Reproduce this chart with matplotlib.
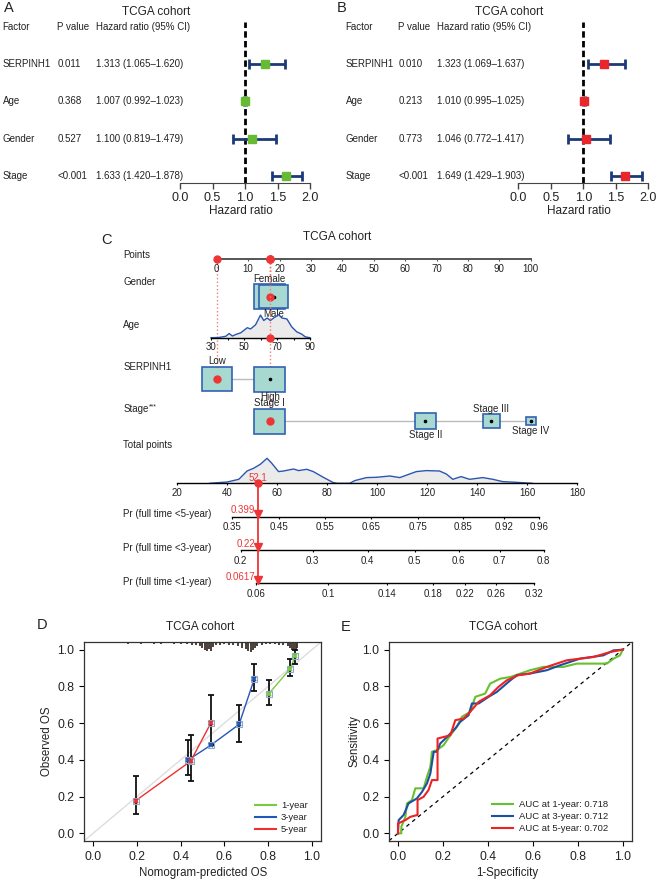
import matplotlib
matplotlib.use('Agg')
import numpy as np
import matplotlib.pyplot as plt
import matplotlib.transforms as mtrans
from matplotlib.patches import Rectangle
from matplotlib.lines import Line2D

plt.rcParams['font.family'] = ['Liberation Sans', 'DejaVu Sans']
plt.rcParams['text.color'] = '#222222'

# ---------------- data ----------------
factors = ['SERPINH1', 'Age', 'Gender', 'Stage']
# A: (green)
pval_a = ['0.011', '0.368', '0.527', '<0.001']
hr_a = [1.313, 1.007, 1.100, 1.633]
lo_a = [1.065, 0.992, 0.819, 1.420]
hi_a = [1.620, 1.023, 1.479, 1.878]
# B: (red)
pval_b = ['0.010', '0.213', '0.773', '<0.001']
hr_b = [1.323, 1.010, 1.046, 1.649]
lo_b = [1.069, 0.995, 0.772, 1.429]
hi_b = [1.637, 1.025, 1.417, 1.903]

# C: nomogram
gender_lev = ['Female', 'Male']
gender_pts = [16.9, 18.1]
gender_rel = [1.0, 0.94]
serp_lev = ['Low', 'High']
serp_pts = [0.0, 16.9]
serp_rel = [0.97, 1.0]
stage_lev = ['Stage I', 'Stage II', 'Stage III', 'Stage IV']
stage_pts = [16.9, 66.4, 87.5, 100.0]
stage_rel = [1.0, 0.67, 0.55, 0.32]

age_x = [30, 31, 35, 39, 41, 43, 45, 48, 52, 54, 57, 60, 62, 64, 66, 68, 71, 73, 76, 79, 82, 85, 87, 89, 90]
age_dens = [0, 0, 0.3, 1.5, 4.3, 1.7, 3.3, 5, 10.3, 9, 13.3, 23.3, 17.7, 20.3, 17.7, 20.3, 23.7, 20.3, 19.3, 11, 6, 3.7, 1, 0.3, 0]

tot_x = [33, 40, 44.6, 47.9, 50.5, 53.2, 55.9, 57.8, 60.5, 62.5, 66.5, 68.5, 71.8, 74.4, 78.4, 82.4, 84,
         89, 91, 95.7, 99.7, 105, 109, 115.6, 119.6, 124.9, 127.6, 130.2, 133.5, 136.9, 142.2, 146.2,
         150.1, 155.4, 162]
tot_dens = [0, 1.3, 4, 12.3, 15, 19, 25, 20, 11.7, 12.3, 14.3, 12.7, 14, 11.7, 6, 0.7, 0,
            0, 2.7, 5.7, 6, 7.3, 5.7, 11.7, 12.7, 12.3, 9.3, 4, 6.7, 4, 5.7, 4,
            1.7, 1, 0]

pr5_lab = ['0.35', '0.45', '0.55', '0.65', '0.75', '0.85', '0.92', '0.96']
pr5_pos = [41.8, 60.7, 79.1, 97.5, 116.2, 134.4, 150.8, 164.8]
pr3_lab = ['0.2', '0.3', '0.4', '0.5', '0.6', '0.7', '0.8']
pr3_pos = [45.4, 74.1, 96.1, 114.9, 132.5, 148.9, 166.5]
pr1_lab = ['0.06', '0.1', '0.14', '0.18', '0.22', '0.26', '0.32']
pr1_pos = [51.5, 80.3, 103.8, 122.4, 135.1, 147.4, 162.7]

pat_gender = 0
pat_age = 66
pat_serp = 0
pat_stage = 0
pat_total = 52.1
pat_pr = ['0.399', '0.22', '0.0617']

# D: calibration
cal1_x = [0.803, 0.900, 0.924]
cal1_y = [0.760, 0.895, 0.964]
cal1_lo = [0.696, 0.855, 0.924]
cal1_hi = [0.836, 0.951, 0.996]
cal3_x = [0.435, 0.538, 0.667, 0.737]
cal3_y = [0.400, 0.480, 0.593, 0.842]
cal3_lo = [0.316, 0.480, 0.500, 0.775]
cal3_hi = [0.509, 0.480, 0.700, 0.924]
cal5_x = [0.195, 0.446, 0.538]
cal5_y = [0.178, 0.393, 0.600]
cal5_lo = [0.105, 0.284, 0.480]
cal5_hi = [0.311, 0.538, 0.751]

rug_x = [0.08, 0.12, 0.16, 0.19, 0.22, 0.25, 0.28, 0.31, 0.34, 0.37, 0.40, 0.43, 0.45, 0.47, 0.49,
         0.50, 0.51, 0.52, 0.53, 0.54, 0.55, 0.56, 0.58, 0.60, 0.62, 0.64, 0.66, 0.68, 0.70, 0.71,
         0.72, 0.73, 0.74, 0.75, 0.77, 0.79, 0.81, 0.83, 0.85, 0.87, 0.89, 0.90, 0.91, 0.92, 0.925, 0.93]
rug_h = [0.006, 0.005, 0.008, 0.006, 0.007, 0.006, 0.008, 0.007, 0.006, 0.008, 0.009, 0.01, 0.012, 0.015, 0.02,
         0.03, 0.04, 0.05, 0.035, 0.045, 0.025, 0.015, 0.012, 0.01, 0.012, 0.015, 0.02, 0.03, 0.035, 0.05,
         0.055, 0.04, 0.03, 0.02, 0.012, 0.01, 0.008, 0.01, 0.012, 0.015, 0.02, 0.03, 0.04, 0.05, 0.045, 0.03]

# E: ROC
roc1_x = [0, 0.015, 0.015, 0.033, 0.04, 0.062, 0.077, 0.114, 0.129, 0.144, 0.151, 0.173, 0.203, 0.233, 0.262,
          0.284, 0.321, 0.344, 0.388, 0.41, 0.455, 0.50, 0.588, 0.647, 0.736, 0.796, 0.929, 0.959, 0.988, 1.0]
roc1_y = [0, 0.0, 0.036, 0.09, 0.163, 0.181, 0.245, 0.245, 0.308, 0.362, 0.444, 0.453, 0.48, 0.534, 0.58,
          0.634, 0.661, 0.743, 0.761, 0.815, 0.842, 0.851, 0.888, 0.906, 0.906, 0.924, 0.924, 0.951, 0.969, 1.0]
roc3_x = [0, 0.003, 0.025, 0.047, 0.084, 0.107, 0.129, 0.144, 0.159, 0.173, 0.188, 0.218, 0.255, 0.277,
          0.314, 0.329, 0.359, 0.403, 0.44, 0.50, 0.529, 0.588, 0.662, 0.721, 0.81, 0.914, 0.959, 1.0]
roc3_y = [0, 0.072, 0.10, 0.163, 0.19, 0.226, 0.272, 0.326, 0.444, 0.444, 0.489, 0.525, 0.571, 0.607,
          0.643, 0.707, 0.707, 0.743, 0.77, 0.833, 0.861, 0.87, 0.888, 0.915, 0.951, 0.969, 0.996, 1.0]
roc5_x = [0, 0.0, 0.033, 0.055, 0.087, 0.087, 0.114, 0.136, 0.151, 0.176, 0.176, 0.233, 0.255, 0.292,
          0.321, 0.359, 0.41, 0.447, 0.484, 0.536, 0.588, 0.662, 0.751, 0.87, 0.944, 1.0]
roc5_y = [0, 0.054, 0.072, 0.09, 0.10, 0.181, 0.199, 0.236, 0.29, 0.29, 0.516, 0.534, 0.616, 0.625,
          0.661, 0.716, 0.752, 0.797, 0.833, 0.861, 0.87, 0.906, 0.942, 0.96, 0.987, 1.0]
auc_lab = ['AUC at 1-year: 0.718', 'AUC at 3-year: 0.712', 'AUC at 5-year: 0.702']

# ---------------- figure ----------------
W, H = 658, 880
fig = plt.figure(figsize=(W / 100, H / 100), dpi=100)

NAVY = '#1d3a78'
GREEN_SQ = '#66bb33'
RED_SQ = '#e8262b'
RED = '#ee3535'
TEAL = '#a8d9d1'
BOXEDGE = '#3262b2'
DBLUE = '#2a56b0'


def box(l, t, r, b):
    return [l / W, 1 - b / H, (r - l) / W, (b - t) / H]


def ftext(x, y, s, **kw):
    kw.setdefault('ha', 'left')
    kw.setdefault('va', 'center')
    return fig.text(x / W, 1 - y / H, s, **kw)


def forest(ax_l, pv, hr, lo, hi, color, cols):
    ax = fig.add_axes(box(ax_l, 22, ax_l + 130, 182.7))
    ax.patch.set_visible(False)
    rows = np.arange(len(factors), 0, -1)
    hr = np.array(hr)
    ax.set_xlim(0, 2)
    ax.set_ylim(0.82, 5.125)
    ax.axvline(1.0, color='black', lw=2, ls=(0, (2.3, 1.2)))
    ax.errorbar(hr, rows, xerr=[hr - np.array(lo), np.array(hi) - hr], fmt='none',
                ecolor=NAVY, elinewidth=2, capsize=3.5, capthick=2, clip_on=False)
    ax.plot(hr, rows, 's', ms=6, color=color, clip_on=False, zorder=3)
    for s in ['top', 'right', 'left']:
        ax.spines[s].set_visible(False)
    ax.spines['bottom'].set_bounds(0, 2)
    ax.spines['bottom'].set_color('#444444')
    ax.set_yticks([])
    ax.set_xticks(np.arange(0, 2.01, 0.5))
    ax.set_xticklabels(['%.1f' % v for v in np.arange(0, 2.01, 0.5)])
    ax.tick_params(axis='x', length=4, width=1, pad=2.5, labelsize=9, colors='#444444', labelcolor='#222222')
    tr = mtrans.blended_transform_factory(fig.transFigure, ax.transData)
    ftext(cols[0], 26.7, 'Factor', fontsize=7)
    ftext(cols[1], 26.7, 'P value', fontsize=7)
    ftext(cols[2], 26.7, 'Hazard ratio (95% CI)', fontsize=7)
    for r, f, p, h, l_, u in zip(rows, factors, pv, hr, lo, hi):
        ax.text(cols[0] / W, r, f, transform=tr, fontsize=7, va='center')
        ax.text(cols[1] / W, r, p, transform=tr, fontsize=7, va='center')
        ax.text(cols[2] / W, r, '%.3f (%.3f\u2013%.3f)' % (h, l_, u), transform=tr, fontsize=7, va='center')
    return ax


# ----- A / B
forest(180, pval_a, hr_a, lo_a, hi_a, GREEN_SQ, [2.7, 57.3, 96])
ftext(155.7, 12.3, 'TCGA cohort', ha='center', fontsize=8.5)
ftext(241, 211, 'Hazard ratio', ha='center', fontsize=8.5)
ftext(4, 8, 'A', fontsize=10.5)

forest(518.3, pval_b, hr_b, lo_b, hi_b, RED_SQ, [345.7, 398.3, 437.3])
ftext(508.7, 12.3, 'TCGA cohort', ha='center', fontsize=8.5)
ftext(579, 211, 'Hazard ratio', ha='center', fontsize=8.5)
ftext(337, 8.5, 'B', fontsize=10.5)

# ----- C nomogram
NOM = (100, 225, 600, 600)


def nom_ax(px0, scale, v0):
    ax = fig.add_axes(box(*NOM))
    ax.set_xlim(v0 + (NOM[0] - px0) / scale, v0 + (NOM[2] - px0) / scale)
    ax.set_ylim(NOM[3], NOM[1])
    ax.axis('off')
    return ax


ax_p = nom_ax(216.7, 3.14, 0)
ax_a = nom_ax(211.0, 1.65, 30)
ax_t = nom_ax(177.3, 2.5, 20)
PX_PER_PT = 3.14

Y_PTS, Y_GEN, Y_AGE, Y_SER, Y_STG, Y_TOT = 259, 296.5, 337.7, 379, 421, 483.3
Y_PR = [516.7, 550, 583]

ftext(101, 240, 'C', fontsize=10.5)
ftext(336.7, 236.7, 'TCGA cohort', ha='center', fontsize=8.5)
row_labels = [('Points', 255), ('Gender', 282.3), ('Age', 324.7), ('SERPINH1', 366.7),
              ('Stage', 409), ('Total points', 445), ('Pr (full time <5-year)', 514.3),
              ('Pr (full time <3-year)', 548), ('Pr (full time <1-year)', 581.7)]
for s, y in row_labels:
    ftext(123.3, y, s, fontsize=7)
ftext(149, 406.5, '***', fontsize=5)

# points axis
pts_ticks = np.arange(0, 101, 10)
ax_p.plot([0, 100], [Y_PTS, Y_PTS], color='#555555', lw=1.4)
ax_p.vlines(pts_ticks, Y_PTS, Y_PTS + 2, color='#555555', lw=0.8)
for t in pts_ticks:
    ax_p.text(t, 268.5, str(t), ha='center', va='center', fontsize=7)


def level_row(levels, pts, rel, y, pick):
    ax_p.plot([min(pts), max(pts)], [y, y], color='#bbbbbb', lw=1, zorder=1)
    for i, (lab, p, r) in enumerate(zip(levels, pts, rel)):
        w = 31 * r / PX_PER_PT
        h = 25 * r
        ax_p.add_patch(Rectangle((p - w / 2, y - h / 2), w, h, fc=TEAL, ec=BOXEDGE, lw=1.2, zorder=2 + i * 0.1))
        ax_p.plot(p, y, 'o', ms=1.6, color='k', zorder=3)
        ly = y - h / 2 - 5.5 if i % 2 == 0 else y + h / 2 + 5.5
        ax_p.text(p, ly, lab, ha='center', va='center', fontsize=7, zorder=4)
    p = pts[pick]
    ax_p.plot([p, p], [Y_PTS, y], ls=':', color='#f08070', lw=1, zorder=1.5)
    ax_p.plot(p, y, 'o', ms=5, color=RED, zorder=5)
    ax_p.plot(p, Y_PTS, 'o', ms=5, color=RED, zorder=5)


level_row(gender_lev, gender_pts, gender_rel, Y_GEN, pat_gender)
level_row(serp_lev, serp_pts, serp_rel, Y_SER, pat_serp)
level_row(stage_lev, stage_pts, stage_rel, Y_STG, pat_stage)

# age density row
ad = np.array(age_dens) / max(age_dens) * 23
ax_a.fill_between(age_x, Y_AGE - ad, Y_AGE, color='#ebebeb', lw=0)
ax_a.plot(age_x, Y_AGE - ad, color=DBLUE, lw=1)
ax_a.plot([30, 90], [Y_AGE, Y_AGE], color='k', lw=1)
ax_a.vlines(np.arange(30, 91, 10), Y_AGE, Y_AGE + 2, color='k', lw=0.8)
for t in [30, 50, 70, 90]:
    ax_a.text(t, 347.3, str(t), ha='center', va='center', fontsize=7)
ax_a.plot([pat_age, pat_age], [Y_PTS, Y_AGE], ls=':', color='#f08070', lw=1)
ax_a.plot(pat_age, Y_AGE, 'o', ms=5, color=RED, zorder=5)
ax_a.plot(pat_age, Y_PTS, 'o', ms=5, color=RED, zorder=5)

# total points row
td = np.array(tot_dens) / max(tot_dens) * 25
ax_t.fill_between(tot_x, Y_TOT - td, Y_TOT, color='#ebebeb', lw=0)
ax_t.plot(tot_x, Y_TOT - td, color=DBLUE, lw=1)
ax_t.plot([20, 180], [Y_TOT, Y_TOT], color='k', lw=1)
tot_ticks = np.arange(20, 181, 20)
ax_t.vlines(tot_ticks, Y_TOT, Y_TOT + 2, color='k', lw=0.8)
for t in tot_ticks:
    ax_t.text(t, 493, str(t), ha='center', va='center', fontsize=7)

# probability rows
for y, labs, pos in zip(Y_PR, [pr5_lab, pr3_lab, pr1_lab], [pr5_pos, pr3_pos, pr1_pos]):
    ax_t.plot([pos[0], pos[-1]], [y, y], color='k', lw=1)
    ax_t.vlines(pos, y, y + 2, color='k', lw=0.8)
    for l_, p in zip(labs, pos):
        ax_t.text(p, y + 10.5, l_, ha='center', va='center', fontsize=7)

# patient pointer
ax_t.plot([pat_total, pat_total], [Y_TOT, Y_PR[-1]], color=RED, lw=1.3, zorder=4)
ax_t.plot(pat_total, Y_TOT, 'o', ms=5, color=RED, zorder=5)
ax_t.text(pat_total + 0.3, Y_TOT - 5.5, '%.1f' % pat_total, color=RED, ha='center', va='center', fontsize=7)
for y, s in zip(Y_PR, pat_pr):
    ax_t.plot(pat_total, y - 3, 'v', ms=6, color=RED, zorder=5)
    ax_t.text(pat_total - 1.0, y - 6.5, s, color=RED, ha='right', va='center', fontsize=7)

# ----- D calibration
def frame_axes(ax):
    ax.set_xlim(-0.04, 1.04)
    ax.set_ylim(-0.04, 1.04)
    ticks = np.arange(0, 1.01, 0.2)
    ax.set_xticks(ticks)
    ax.set_yticks(ticks)
    ax.set_xticklabels(['%.1f' % v for v in ticks])
    ax.set_yticklabels(['%.1f' % v for v in ticks])
    ax.tick_params(length=3.5, width=0.8, pad=3.6, labelsize=8.7, labelcolor='#222222')
    for s in ax.spines.values():
        s.set_linewidth(0.9)
        s.set_color('#333333')


ax_d = fig.add_axes(box(84.3, 642.3, 320.7, 840.7))
frame_axes(ax_d)
ax_d.plot([-0.04, 1.04], [-0.04, 1.04], color='#dddddd', lw=1, zorder=1)
ax_d.vlines(rug_x, 1.04 - np.array(rug_h), 1.04, color='#3b2f2a', lw=1.3, zorder=2)
cal_cols = ['#7ac943', '#2457b5', '#ee3030']
cal_sets = [(cal1_x, cal1_y, cal1_lo, cal1_hi), (cal3_x, cal3_y, cal3_lo, cal3_hi),
            (cal5_x, cal5_y, cal5_lo, cal5_hi)]
for col, (cx, cy, clo, chi) in zip(cal_cols, cal_sets):
    cy = np.array(cy)
    ax_d.plot(cx, cy, color=col, lw=1, zorder=3)
    ax_d.errorbar(cx, cy, yerr=[cy - np.array(clo), np.array(chi) - cy], fmt='none',
                  ecolor='#111111', elinewidth=1.3, capsize=2.5, capthick=1.3, zorder=4)
    ax_d.plot(cx, cy, 's', ms=4, mfc='none', mec='#8fa8c8', mew=0.8, zorder=5)
    ax_d.plot(cx, cy, 'x', ms=3.5, color=col, mew=1.4, zorder=6)
hd = [Line2D([], [], color=c, lw=1.5) for c in cal_cols]
ax_d.legend(hd, ['1-year', '3-year', '5-year'], loc='lower left', bbox_to_anchor=(255 / W, 1 - 834 / H),
            bbox_transform=fig.transFigure, frameon=False, fontsize=6.8, handlelength=2.2,
            handletextpad=0.55, labelspacing=0.3, borderpad=0, borderaxespad=0)
ftext(200, 626.7, 'TCGA cohort', ha='center', fontsize=8.5)
ftext(203, 873.3, 'Nomogram-predicted OS', ha='center', fontsize=8.3)
ftext(46.5, 741.5, 'Observed OS', ha='center', rotation=90, fontsize=8.3)
ftext(37, 625, 'D', fontsize=10.5)

# ----- E ROC
ax_e = fig.add_axes(box(389, 642.3, 631.7, 840.7))
frame_axes(ax_e)
ax_e.plot([-0.04, 1.04], [-0.04, 1.04], color='k', lw=0.9, ls=(0, (3, 3)), zorder=1)
roc_cols = ['#66c030', '#1f4fa0', '#ee2222']
for col, rx, ry in zip(roc_cols, [roc1_x, roc3_x, roc5_x], [roc1_y, roc3_y, roc5_y]):
    ax_e.plot(rx, ry, color=col, lw=1.5, zorder=3)
he = [Line2D([], [], color=c, lw=1.5) for c in roc_cols]
ax_e.legend(he, auc_lab, loc='lower left', bbox_to_anchor=(492 / W, 1 - 833 / H),
            bbox_transform=fig.transFigure, frameon=False, fontsize=6.8, handlelength=2.2,
            handletextpad=0.7, labelspacing=0.3, borderpad=0, borderaxespad=0)
ftext(503.3, 626.7, 'TCGA cohort', ha='center', fontsize=8.5)
ftext(507.5, 873.3, '1-Specificity', ha='center', fontsize=8.3)
ftext(354.5, 741.5, 'Sensitivity', ha='center', rotation=90, fontsize=8.3)
ftext(341, 626.7, 'E', fontsize=10.5)

fig.savefig('out.png', dpi=100)
